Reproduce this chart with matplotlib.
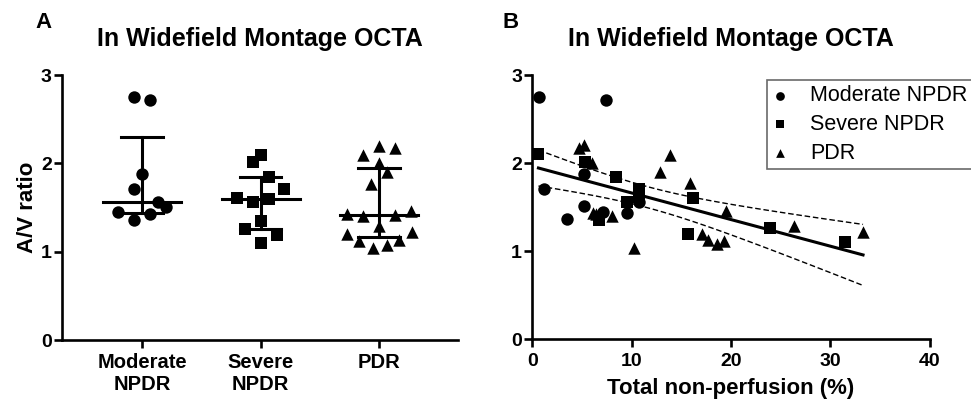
import numpy as np
import matplotlib.pyplot as plt

plt.rcParams['font.family'] = ['Liberation Sans', 'DejaVu Sans']

groups = ['Moderate NPDR', 'Severe NPDR', 'PDR']
group_ticks = ['Moderate\nNPDR', 'Severe\nNPDR', 'PDR']
markers = ['o', 's', '^']

# total non-perfusion (%) per eye
mod_np = [0.7, 7.4, 5.2, 1.2, 10.7, 5.2, 7.1, 9.5, 3.5]
sev_np = [0.6, 5.3, 8.4, 10.7, 10.7, 16.2, 9.5, 6.7, 23.9, 15.7, 31.5]
pdr_np = [5.2, 4.7, 13.9, 6.0, 12.8, 15.9, 19.5, 6.1, 6.4, 8.0, 26.3, 33.3,
          17.1, 17.7, 19.3, 18.6, 10.2]

# A/V ratio per eye
mod_av = [2.75, 2.72, 1.88, 1.71, 1.56, 1.51, 1.45, 1.43, 1.36]
sev_av = [2.10, 2.01, 1.84, 1.71, 1.61, 1.60, 1.56, 1.35, 1.26, 1.19, 1.10]
pdr_av = [2.20, 2.17, 2.09, 2.00, 1.90, 1.77, 1.46, 1.43, 1.42, 1.40, 1.29, 1.22,
          1.20, 1.13, 1.12, 1.08, 1.04]

# horizontal scatter in the dot plot (category units)
mod_jit = [-0.07, 0.065, 0, -0.07, 0.135, 0.2, -0.2, 0.065, -0.07]
sev_jit = [0, -0.068, 0.07, 0.2, -0.2, 0.07, -0.068, 0, -0.13, 0.135, 0]
pdr_jit = [0, 0.135, -0.135, 0, 0.068, -0.065, 0.27, -0.27, 0.135, -0.135, 0,
           0.28, -0.275, 0.17, -0.17, 0.062, -0.056]

nps = [mod_np, sev_np, pdr_np]
avs = [mod_av, sev_av, pdr_av]
jits = [mod_jit, sev_jit, pdr_jit]

fig = plt.figure(figsize=(9.71, 4.07), dpi=100)
axA = fig.add_axes([0.0639, 0.1646, 0.4078, 0.6511])
axB = fig.add_axes([0.5484, 0.1663, 0.4089, 0.6494])

lw = 1.9
for ax in (axA, axB):
    for s in ('top', 'right'):
        ax.spines[s].set_visible(False)
    for s in ('left', 'bottom'):
        ax.spines[s].set_linewidth(lw)
    ax.tick_params(width=lw, length=6, labelsize=14)
    ax.tick_params(axis='y', pad=1.5)
    ax.set_ylim(0, 3)
    ax.set_yticks([0, 1, 2, 3])

# --- panel A: dot plot with median and IQR ---
for i in range(3):
    pos = i + 1
    y = np.array(avs[i])
    x = pos + np.array(jits[i])
    axA.scatter(x, y, marker=markers[i], s=80, color='black', linewidths=0, zorder=3)
    med = np.median(y)
    q1, q3 = np.percentile(y, [25, 75], method='weibull')
    axA.plot([pos - 0.33, pos + 0.33], [med, med], color='black', lw=2.2, zorder=2)
    axA.plot([pos, pos], [q1, q3], color='black', lw=2.2, zorder=2)
    axA.plot([pos - 0.175, pos + 0.175], [q1, q1], color='black', lw=2.2, zorder=2)
    axA.plot([pos - 0.175, pos + 0.175], [q3, q3], color='black', lw=2.2, zorder=2)

axA.set_xlim(0.325, 3.665)
axA.set_xticks([1, 2, 3])
axA.set_xticklabels(group_ticks, fontweight='bold', fontsize=14.5)
axA.set_yticklabels(['0', '1', '2', '3'], fontweight='bold')
axA.set_ylabel('A/V ratio', fontweight='bold', fontsize=16, labelpad=2)
axA.set_title('In Widefield Montage OCTA', fontweight='bold', fontsize=18, pad=21)

# --- panel B: regression of A/V ratio on non-perfusion ---
for i in range(3):
    axB.scatter(nps[i], avs[i], marker=markers[i], s=80, color='black',
                linewidths=0, zorder=3, label=groups[i])

xa = np.concatenate(nps)
ya = np.concatenate(avs)
n = len(xa)
slope, icpt = np.polyfit(xa, ya, 1)
resid = ya - (slope * xa + icpt)
s_err = np.sqrt(np.sum(resid ** 2) / (n - 2))
sxx = np.sum((xa - xa.mean()) ** 2)
t_val = 2.03
xf = np.linspace(xa.min(), xa.max(), 100)
yf = slope * xf + icpt
band = t_val * s_err * np.sqrt(1 / n + (xf - xa.mean()) ** 2 / sxx)
axB.plot(xf, yf, color='black', lw=2.2, zorder=2)
axB.plot(xf, yf + band, color='black', lw=1, ls=(0, (4, 2)), zorder=2)
axB.plot(xf, yf - band, color='black', lw=1, ls=(0, (4, 2)), zorder=2)

axB.set_xlim(0, 40)
axB.set_xticks([0, 10, 20, 30, 40])
axB.set_xticklabels(['0', '10', '20', '30', '40'], fontweight='bold')
axB.set_yticklabels(['0', '1', '2', '3'], fontweight='bold')
axB.set_xlabel('Total non-perfusion (%)', fontweight='bold', fontsize=16, labelpad=6)
axB.set_title('In Widefield Montage OCTA', fontweight='bold', fontsize=18, pad=21)

leg = axB.legend(loc='upper left', bbox_to_anchor=(0.7896, 0.8034),
                 bbox_transform=fig.transFigure, fontsize=15.5, markerscale=0.7,
                 frameon=True, fancybox=False, edgecolor='#444444',
                 handletextpad=1.0, borderpad=0.25, labelspacing=0.36,
                 handlelength=0.77, borderaxespad=0)
leg.get_frame().set_linewidth(1.2)

fig.text(0.036, 0.931, 'A', fontweight='bold', fontsize=16)
fig.text(0.518, 0.931, 'B', fontweight='bold', fontsize=16)

fig.savefig('out.png', dpi=100)
